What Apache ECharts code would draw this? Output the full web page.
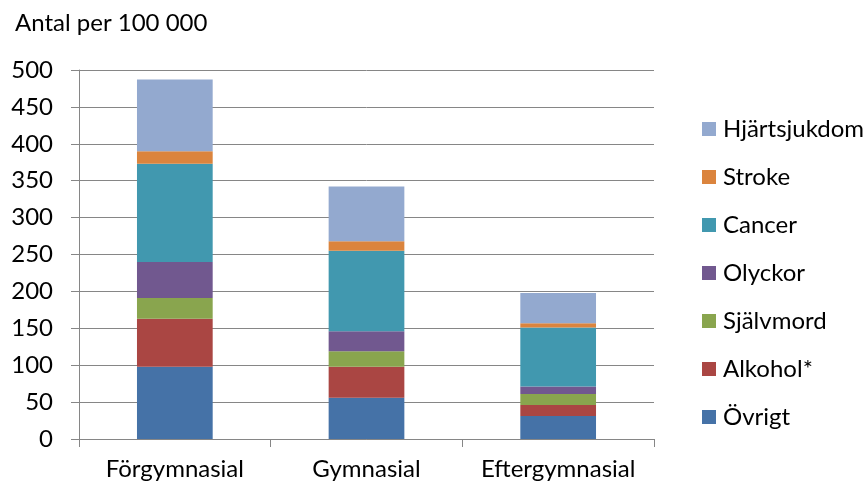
<!DOCTYPE html>
<html>
<head>
<meta charset="utf-8">
<script src="https://cdn.jsdelivr.net/npm/echarts@6/dist/echarts.min.js"></script>
<style>
  html, body { margin: 0; padding: 0; background: #fff; }
  #chart { width: 866px; height: 486px; }
</style>
</head>
<body>
<div id="chart"></div>
<script>
// Deaths per 100 000 by education level, split by cause
const categories = ['Förgymnasial', 'Gymnasial', 'Eftergymnasial'];

const ovrigt       = [98, 56, 31];
const alkohol      = [65, 42, 15];
const sjalvmord    = [28, 21, 15];
const olyckor      = [49, 27, 10];
const cancer       = [133, 109, 80];
const stroke       = [17, 13, 6];
const hjartsjukdom = [97, 74, 41];

const yTicks = { min: 0, max: 500, step: 50 };

// stacking order, bottom to top
const stack = [
  { name: 'Övrigt',       data: ovrigt,       color: '#4572A7' },
  { name: 'Alkohol*',     data: alkohol,      color: '#AA4643' },
  { name: 'Självmord',    data: sjalvmord,    color: '#89A54E' },
  { name: 'Olyckor',      data: olyckor,      color: '#71588F' },
  { name: 'Cancer',       data: cancer,       color: '#4198AF' },
  { name: 'Stroke',       data: stroke,       color: '#DB843D' },
  { name: 'Hjärtsjukdom', data: hjartsjukdom, color: '#93A9CF' }
];

const FONT = 'Lato';
const FS = 24;
const axisGrey = '#868686';

const chart = echarts.init(document.getElementById('chart'), null, { renderer: 'canvas' });

chart.setOption({
  animation: false,
  backgroundColor: '#ffffff',
  textStyle: { fontFamily: FONT },
  title: {
    text: 'Antal per 100 000',
    left: 10,
    top: 6,
    textStyle: { fontFamily: FONT, fontSize: FS, fontWeight: 'normal', color: '#000' }
  },
  legend: {
    orient: 'vertical',
    left: 697,
    top: 112,
    itemWidth: 14,
    itemHeight: 14,
    itemGap: 24,
    icon: 'rect',
    data: stack.map(s => s.name).reverse(),
    textStyle: { fontFamily: FONT, fontSize: FS, color: '#000', lineHeight: 24, padding: [0, 0, 0, 2] }
  },
  grid: { left: 79, right: 212, top: 70, bottom: 47 },
  xAxis: {
    type: 'category',
    data: categories,
    axisLine: { lineStyle: { color: axisGrey, width: 1 } },
    axisTick: { show: true, length: 8, lineStyle: { color: axisGrey } },
    axisLabel: { fontFamily: FONT, fontSize: FS, color: '#000', margin: 18, interval: 0 }
  },
  yAxis: {
    type: 'value',
    min: yTicks.min,
    max: yTicks.max,
    interval: yTicks.step,
    axisLine: { show: true, lineStyle: { color: axisGrey, width: 1 } },
    axisTick: { show: true, length: 8, lineStyle: { color: axisGrey } },
    splitLine: { lineStyle: { color: axisGrey, width: 1 } },
    axisLabel: { fontFamily: FONT, fontSize: FS, color: '#000', margin: 26 }
  },
  series: stack.map(s => ({
    name: s.name,
    type: 'bar',
    stack: 'total',
    data: s.data,
    barWidth: '39.5%',
    itemStyle: { color: s.color }
  }))
});
</script>
</body>
</html>
